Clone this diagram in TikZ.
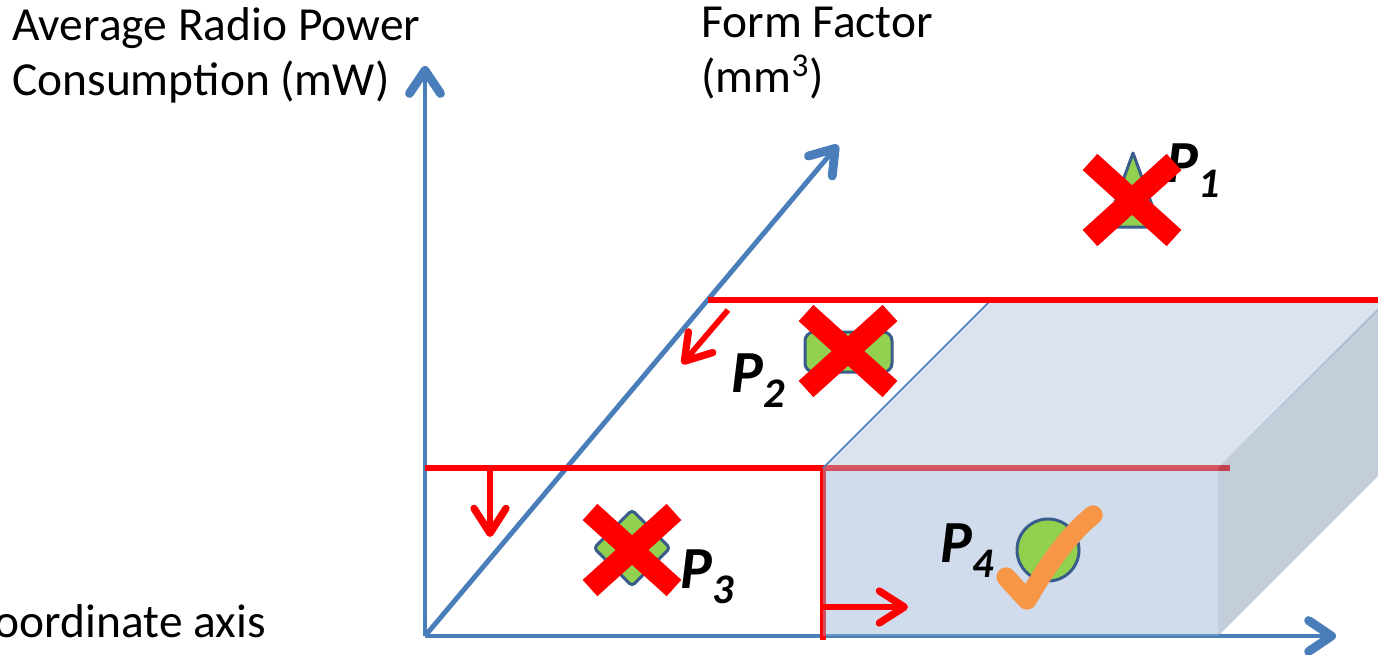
\documentclass[tikz,border=0pt]{standalone}
\usepackage{fontspec}
\setmainfont{Carlito}
\usepackage{xcolor}
\usepackage{tikz}
\usetikzlibrary{arrows.meta, positioning}

\definecolor{axisblue}{RGB}{74,126,187}
\definecolor{markgreen}{RGB}{146,208,80}
\definecolor{markblue}{RGB}{56,93,138}
\definecolor{tickorange}{RGB}{247,150,70}
\definecolor{boxfront}{RGB}{151,178,211}
\definecolor{boxtop}{RGB}{175,193,219}
\definecolor{boxside}{RGB}{124,146,175}

\newcommand{\psub}[1]{\raisebox{-9pt}{\fontsize{24}{24}\selectfont #1}}

\begin{document}
\begin{tikzpicture}[x=0.02cm, y=-0.02cm,
    axisline/.style={draw=axisblue, line width=2.8pt, -{Straight Barb[length=4.6mm, width=6.2mm, line width=0pt 1.8, line cap=round, line join=round]}},
    limitline/.style={draw=red, line width=3.4pt},
    shiftarrow/.style={draw=red, line width=3.2pt, -{Straight Barb[length=5mm, width=6.4mm, line width=0pt 1.3, line cap=round, line join=round]}},
    crossmark/.style={draw=red, line width=12.5pt},
    marker/.style={fill=markgreen, draw=markblue, line width=1.7pt, line join=round},
    plabel/.style={font=\fontsize{34}{34}\selectfont\bfseries\itshape, inner sep=0pt, anchor=base west},
    axislabel/.style={font=\fontsize{27}{31.3}\selectfont, inner sep=0pt, align=left}]

    \useasboundingbox (0,0) rectangle (1378,654);

    % =================================================================
    % AXES
    % =================================================================
    \coordinate (O) at (425,636);
    \coordinate (powertip) at (425,66);
    \coordinate (sizetip) at (1336,636);
    \coordinate (formtip) at (838,145);

    \draw[axisline] (O) -- (powertip);
    \draw[axisline] (O) -- (sizetip);
    \draw[axisline] (O) -- (formtip);

    % =================================================================
    % CONSTRAINT LINES (power limit, size limit)
    % =================================================================
    \coordinate (powerL) at (425,468);
    \coordinate (powerR) at (1230,468);
    \coordinate (sizeT) at (823,468);
    \coordinate (sizeB) at (823,640);

    \draw[limitline] (powerL) -- (powerR);
    \draw[limitline] (sizeT) -- (sizeB);
    \draw[shiftarrow] (490,470) -- (490,537);

    % =================================================================
    % FEASIBLE BOX
    % =================================================================
    \fill[boxtop, fill opacity=0.45] (823,468) -- (991,300) -- (1390,300) -- (1218,468) -- cycle;
    \fill[boxside, fill opacity=0.45] (1218,468) -- (1390,296) -- (1390,464) -- (1218,636) -- cycle;
    \fill[boxfront, fill opacity=0.45] (823,468) rectangle (1218,636);
    \draw[axisblue, line width=0.9pt] (823,468) -- (989,302);
    \draw[shiftarrow] (823,607) -- (908,607);

    % form factor limit
    \coordinate (formL) at (708,300);
    \coordinate (formR) at (1390,300);
    \draw[limitline] (formL) -- (formR);
    \draw[shiftarrow] (728,310) -- (682,364);

    % =================================================================
    % DESIGN POINTS
    % =================================================================
    % P1
    \draw[marker] (1133,153) -- (1160,227) -- (1106,227) -- cycle;
    \node[plabel] (pone) at (1166,182) {P\psub{1}};
    \draw[crossmark] (1090,162) -- (1174,238) (1090,238) -- (1174,162);

    % P2
    \draw[marker, rounded corners=5pt] (805,332) rectangle (892,372);
    \node[plabel] (ptwo) at (731,392) {P\psub{2}};
    \draw[crossmark] (806,313) -- (890,389) (806,389) -- (890,313);

    % P3
    \draw[marker, rounded corners=2pt] (632,510) -- (670,548) -- (632,586) -- (594,548) -- cycle;
    \node[plabel] (pthree) at (680,588) {P\psub{3}};
    \draw[crossmark] (590,512) -- (674,588) (590,588) -- (674,512);

    % P4
    \draw[marker] (1048,550) circle (31);
    \node[plabel] (pfour) at (940,562) {P\psub{4}};
    \draw[tickorange, line width=11pt, line cap=round, line join=round]
        (1006,577) -- (1027,600) .. controls (1047,566) and (1067,536) .. (1093,515);

    % =================================================================
    % AXIS TITLES
    % =================================================================
    \node[axislabel, anchor=north west] (powerlab) at (12,7) {Average Radio Power\\Consumption (mW)};
    \node[axislabel, anchor=north west] (formlab) at (701,7) {Form Factor\\(mm\textsuperscript{3})};
    \node[axislabel, anchor=base east] (axislab) at (266,637) {Coordinate axis};

\end{tikzpicture}
\end{document}
